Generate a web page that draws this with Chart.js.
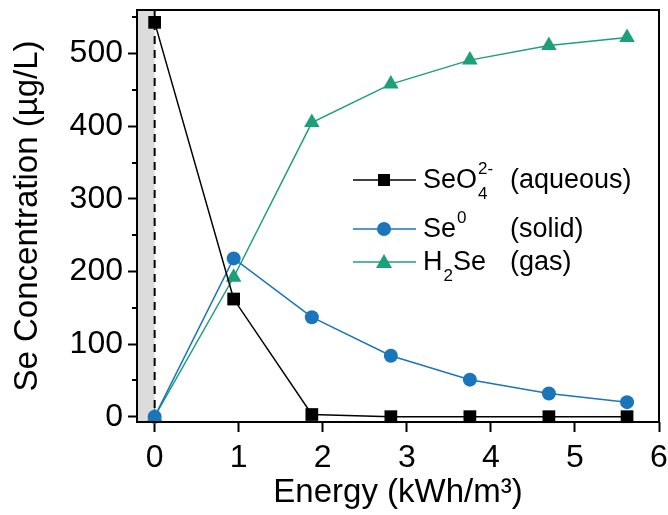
<!DOCTYPE html>
<html><head><meta charset="utf-8">
<script src="https://cdn.jsdelivr.net/npm/chart.js@4/dist/chart.umd.min.js"></script>
<style>html,body{margin:0;padding:0;background:#fff}#wrap{width:668px;height:515px}</style>
</head><body><div id="wrap"><canvas id="c" width="668" height="515"></canvas></div>
<script>
const energy = [0, 0.94, 1.87, 2.81, 3.75, 4.69, 5.62];
const seo4 = [543, 162, 3, 0, 0, 0, 0];
const se0 = [0, 218, 137, 84, 51, 32, 20];
const h2se = [0, 192, 405, 458, 491, 511, 522];
const xTicks = [0, 1, 2, 3, 4, 5, 6];
const yTicks = [0, 100, 200, 300, 400, 500];
const yMinorTicks = [50, 150, 250, 350, 450, 550];

const BLACK = '#000000', BLUE = '#1b75bb', GREEN = '#1d9f7a';
const FONT = "'Liberation Sans', Arial, sans-serif";

function pts(ys){ return energy.map((x,i)=>({x:x,y:ys[i]})); }

const framePlugin = {
  id:'frame',
  beforeDatasetsDraw(chart){
    const {ctx, chartArea:a, scales:{x}} = chart;
    const x0 = x.getPixelForValue(0);
    ctx.save();
    ctx.fillStyle = '#dcdcdc';
    ctx.fillRect(a.left, a.top, x0 - a.left, a.bottom - a.top);
    ctx.strokeStyle = '#000'; ctx.lineWidth = 2; ctx.setLineDash([8,6]);
    ctx.beginPath(); ctx.moveTo(x0, a.bottom); ctx.lineTo(x0, a.top); ctx.stroke();
    ctx.restore();
  },
  afterDraw(chart){
    const {ctx, chartArea:a, scales:{y}} = chart;
    ctx.save();
    ctx.strokeStyle = '#000'; ctx.lineWidth = 2;
    ctx.strokeRect(a.left, a.top, a.right - a.left, a.bottom - a.top);
    ctx.beginPath();
    yMinorTicks.forEach(v=>{ const p = Math.round(y.getPixelForValue(v)); ctx.moveTo(a.left, p); ctx.lineTo(a.left-5, p); });
    ctx.stroke();
    // legend
    const rows = [
      {y:180, color:BLACK, m:'rect', parts:[['SeO',0],['4',1],['2-',-1]], state:'(aqueous)'},
      {y:229, color:BLUE, m:'circle', parts:[['Se',0],['0',-1]], state:'(solid)'},
      {y:262, color:GREEN, m:'tri', parts:[['H',0],['2',1],['Se',0]], state:'(gas)'}
    ];
    rows.forEach(r=>{
      ctx.strokeStyle = r.color; ctx.fillStyle = r.color; ctx.lineWidth = 1.5;
      ctx.beginPath(); ctx.moveTo(353, r.y); ctx.lineTo(416, r.y); ctx.stroke();
      const mx = 384;
      ctx.beginPath();
      if(r.m==='rect'){ ctx.rect(mx-6, r.y-6, 12, 12); }
      else if(r.m==='circle'){ ctx.arc(mx, r.y, 7, 0, Math.PI*2); }
      else { ctx.moveTo(mx, r.y-8); ctx.lineTo(mx+8, r.y+6); ctx.lineTo(mx-8, r.y+6); ctx.closePath(); }
      ctx.fill();
      ctx.fillStyle = '#000'; ctx.textBaseline = 'middle'; ctx.textAlign = 'left';
      let tx = 423, lastX = tx;
      r.parts.forEach(([t,s])=>{
        if(s===0){ ctx.font = '27px ' + FONT; ctx.fillText(t, tx, r.y+1); lastX = tx; tx += ctx.measureText(t).width; }
        else if(s===1){ ctx.font = '17px ' + FONT; ctx.fillText(t, tx+1, r.y+14); lastX = tx; tx += ctx.measureText(t).width+1; }
        else { ctx.font = '17px ' + FONT; const sx = (r.parts[1][1]===1) ? lastX+1 : tx+1; ctx.fillText(t, sx, r.y-11); tx = Math.max(tx, sx + ctx.measureText(t).width); }
      });
      ctx.font = '27px ' + FONT;
      ctx.fillText(r.state, 510, r.y+1);
    });
    ctx.restore();
  }
};

new Chart(document.getElementById('c'), {
  type:'line',
  data:{datasets:[
    {label:'SeO4 2- (aqueous)', data:pts(seo4), borderColor:BLACK, backgroundColor:BLACK, pointStyle:'rect', pointRadius:9, borderWidth:1.5, pointBorderWidth:0},
    {label:'Se0 (solid)', data:pts(se0), borderColor:BLUE, backgroundColor:BLUE, pointStyle:'circle', pointRadius:7, borderWidth:1.5, pointBorderWidth:0},
    {label:'H2Se (gas)', data:pts(h2se), borderColor:GREEN, backgroundColor:GREEN, pointStyle:'triangle', pointRadius:9, borderWidth:1.5, pointBorderWidth:0}
  ]},
  options:{
    responsive:false, animation:false, clip:false,
    layout:{padding:{top:10, right:7, left:0, bottom:0}},
    plugins:{legend:{display:false}, tooltip:{enabled:false}},
    scales:{
      x:{type:'linear', min:-0.21, max:6,
        afterBuildTicks(s){ s.ticks = xTicks.map(v=>({value:v})); },
        afterFit(s){ s.height = 93; s.paddingLeft = 0; s.paddingRight = 0; },
        ticks:{color:'#000', font:{family:FONT, size:32}, padding:7, maxRotation:0, autoSkip:false},
        grid:{drawOnChartArea:false, drawTicks:true, tickLength:10, tickWidth:2, tickColor:'#000'},
        border:{display:false},
        title:{display:true, text:'Energy (kWh/m³)', color:'#000', font:{family:FONT, size:33}, padding:{top:0,bottom:2}}
      },
      y:{type:'linear', min:-7.3, max:560,
        afterBuildTicks(s){ s.ticks = yTicks.map(v=>({value:v})); },
        afterFit(s){ s.width = 137; s.paddingTop = 0; s.paddingBottom = 0; },
        ticks:{color:'#000', font:{family:FONT, size:32}, padding:5, autoSkip:false},
        grid:{drawOnChartArea:false, drawTicks:true, tickLength:9, tickWidth:2, tickColor:'#000'},
        border:{display:false},
        title:{display:true, text:'Se Concentration (µg/L)', color:'#000', font:{family:FONT, size:33}, padding:{top:8,bottom:0}}
      }
    }
  },
  plugins:[framePlugin]
});
</script></body></html>
